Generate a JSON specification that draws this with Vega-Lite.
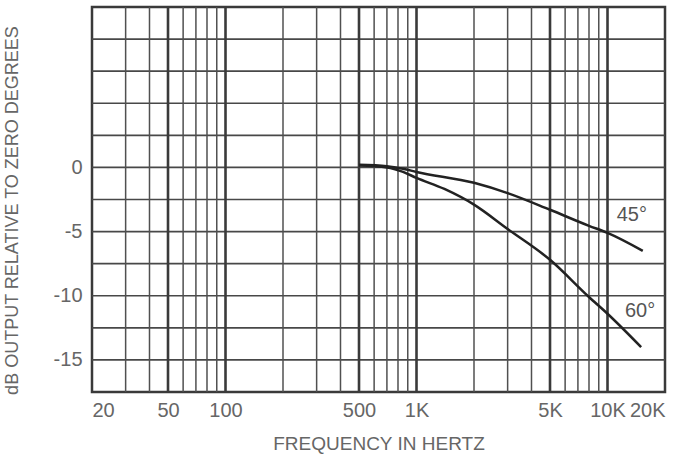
{
  "$schema": "https://vega.github.io/schema/vega-lite/v6.json",
  "width": 573,
  "height": 385,
  "autosize": "none",
  "padding": {"left": 92, "top": 7, "right": 14, "bottom": 63},
  "background": "white",
  "config": {
    "view": {"stroke": "#3a3a3a", "strokeWidth": 2.5},
    "font": "Liberation Sans"
  },
  "datasets": {
    "hgrid": [
      {"db": -15}, {"db": -12.5}, {"db": -10}, {"db": -7.5}, {"db": -5}, {"db": -2.5},
      {"db": 0}, {"db": 2.5}, {"db": 5}, {"db": 7.5}, {"db": 10}
    ],
    "minorGrid": [
      {"freq": 30}, {"freq": 40}, {"freq": 60}, {"freq": 70}, {"freq": 80}, {"freq": 90},
      {"freq": 200}, {"freq": 300}, {"freq": 400},
      {"freq": 600}, {"freq": 700}, {"freq": 800}, {"freq": 900},
      {"freq": 2000}, {"freq": 3000}, {"freq": 4000}, {"freq": 6000}, {"freq": 7000}, {"freq": 8000}, {"freq": 9000}
    ],
    "majorGrid": [
      {"freq": 50}, {"freq": 100}, {"freq": 500}, {"freq": 1000}, {"freq": 5000}, {"freq": 10000}
    ],
    "curves": [
      {"freq": 500, "db": 0.2, "angle": "45°"},
      {"freq": 700, "db": 0.1, "angle": "45°"},
      {"freq": 850, "db": -0.1, "angle": "45°"},
      {"freq": 1000, "db": -0.35, "angle": "45°"},
      {"freq": 2000, "db": -1.2, "angle": "45°"},
      {"freq": 3000, "db": -2.0, "angle": "45°"},
      {"freq": 5000, "db": -3.3, "angle": "45°"},
      {"freq": 8000, "db": -4.55, "angle": "45°"},
      {"freq": 10000, "db": -5.1, "angle": "45°"},
      {"freq": 15300, "db": -6.5, "angle": "45°"},
      {"freq": 500, "db": 0.15, "angle": "60°"},
      {"freq": 700, "db": 0.0, "angle": "60°"},
      {"freq": 850, "db": -0.35, "angle": "60°"},
      {"freq": 1000, "db": -0.82, "angle": "60°"},
      {"freq": 1400, "db": -1.68, "angle": "60°"},
      {"freq": 2000, "db": -2.9, "angle": "60°"},
      {"freq": 3000, "db": -4.8, "angle": "60°"},
      {"freq": 5000, "db": -7.2, "angle": "60°"},
      {"freq": 8000, "db": -10.1, "angle": "60°"},
      {"freq": 10000, "db": -11.4, "angle": "60°"},
      {"freq": 15000, "db": -14.0, "angle": "60°"}
    ],
    "labels": [
      {"freq": 13400, "db": -3.7, "text": "45°"},
      {"freq": 14800, "db": -11.2, "text": "60°"}
    ]
  },
  "layer": [
    {
      "data": {"name": "hgrid"},
      "mark": {"type": "rule", "color": "#484848", "strokeWidth": 1.7},
      "encoding": {
        "y": {
          "field": "db",
          "type": "quantitative",
          "scale": {"domain": [-17.5, 12.5], "nice": false, "zero": false},
          "axis": {
            "title": "dB OUTPUT RELATIVE TO ZERO DEGREES",
            "values": [-15, -10, -5, 0],
            "labelExpr": "'' + datum.value",
            "ticks": false,
            "domain": false,
            "grid": false,
            "labelFontSize": 20,
            "labelColor": "#666666",
            "labelPadding": 10,
            "titleFontSize": 18,
            "titleFontWeight": "normal",
            "titleColor": "#666666",
            "titleX": -80,
            "titleY": 203,
            "titleBaseline": "middle",
            "titleAnchor": "middle"
          }
        }
      }
    },
    {
      "data": {"name": "minorGrid"},
      "mark": {"type": "rule", "color": "#505050", "strokeWidth": 1.5},
      "encoding": {
        "x": {"field": "freq", "type": "quantitative", "scale": {"type": "log", "domain": [20, 20000], "nice": false}}
      }
    },
    {
      "data": {"name": "majorGrid"},
      "mark": {"type": "rule", "color": "#3a3a3a", "strokeWidth": 2.6},
      "encoding": {
        "x": {"field": "freq", "type": "quantitative", "scale": {"type": "log", "domain": [20, 20000], "nice": false}}
      }
    },
    {
      "data": {"name": "curves"},
      "mark": {"type": "line", "interpolate": "monotone", "color": "#222222", "strokeWidth": 2.5},
      "encoding": {
        "x": {
          "field": "freq",
          "type": "quantitative",
          "scale": {"type": "log", "domain": [20, 20000], "nice": false},
          "axis": {
            "title": "FREQUENCY IN HERTZ",
            "values": [20, 50, 100, 500, 1000, 5000, 10000, 20000],
            "labelExpr": "datum.value >= 1000 ? (datum.value/1000) + 'K' : '' + datum.value",
            "labelFlush": true,
            "labelOverlap": false,
            "ticks": false,
            "domain": false,
            "grid": false,
            "labelFontSize": 20,
            "labelColor": "#666666",
            "labelPadding": 8,
            "titleFontSize": 19,
            "titleFontWeight": "normal",
            "titleColor": "#666666",
            "titlePadding": 14
          }
        },
        "y": {"field": "db", "type": "quantitative"},
        "detail": {"field": "angle", "type": "nominal"}
      }
    },
    {
      "data": {"name": "labels"},
      "mark": {"type": "text", "fontSize": 20, "color": "#555555", "align": "center", "baseline": "middle"},
      "encoding": {
        "x": {"field": "freq", "type": "quantitative"},
        "y": {"field": "db", "type": "quantitative"},
        "text": {"field": "text"}
      }
    }
  ]
}
